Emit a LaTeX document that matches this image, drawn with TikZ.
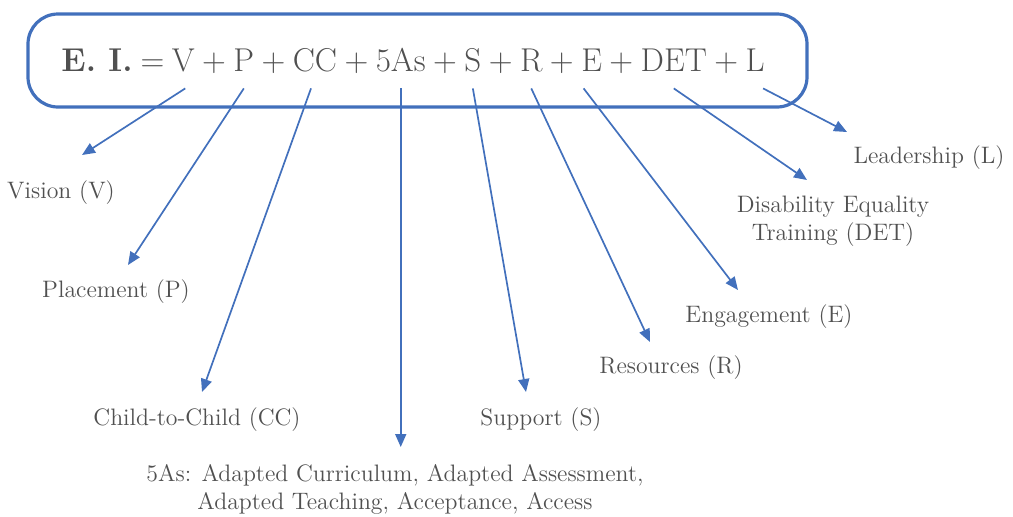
\documentclass[tikz,border=0pt]{standalone}
\usepackage{fontspec}
\usepackage{tikz}
\usetikzlibrary{arrows.meta, positioning}
\definecolor{azul}{RGB}{66,112,188}
\definecolor{gris}{RGB}{80,80,80}

\begin{document}
\begin{tikzpicture}[x=0.5pt, y=-0.5pt,
  term/.style={inner sep=0pt, text depth=8.5pt, text=gris, font=\fontsize{16.5}{19}\selectfont},
  etiqueta/.style={inner sep=0pt, text=gris, align=center, font=\fontsize{11.9}{14}\selectfont},
  flecha/.style={azul, line width=0.85pt, -{Triangle[length=6.5pt,width=5.5pt]}},
  node distance=3.35pt]
\useasboundingbox (0,0) rectangle (1013,516);
% marco redondeado de la fórmula
\draw[azul, line width=1.6pt, rounded corners=15pt] (28,14) rectangle (807,107);
% fórmula
\node[term, anchor=base west] (ei) at (61,71) {\textbf{E. I.}\kern-1pt\ =};
\node[term, base right=of ei] (V) {V};
\node[term, base right=of V] (m1) {+};
\node[term, base right=of m1] (P) {P};
\node[term, base right=of P] (m2) {+};
\node[term, base right=of m2] (CC) {CC};
\node[term, base right=of CC] (m3) {+};
\node[term, base right=of m3] (A5) {5As};
\node[term, base right=of A5] (m4) {+};
\node[term, base right=of m4] (S) {S};
\node[term, base right=of S] (m5) {+};
\node[term, base right=of m5] (R) {R};
\node[term, base right=of R] (m6) {+};
\node[term, base right=of m6] (E) {E};
\node[term, base right=of E] (m7) {+};
\node[term, base right=of m7] (DET) {DET};
\node[term, base right=of DET] (m8) {+};
\node[term, base right=of m8] (L) {L};
% etiquetas
\node[etiqueta] (vision) at (61,193) {Vision (V)};
\node[etiqueta] (placement) at (116,292) {Placement (P)};
\node[etiqueta] (child) at (197,420) {Child-to-Child (CC)};
\node[etiqueta] (fiveas) at (395,489) {5As: Adapted Curriculum, Adapted Assessment,\\Adapted Teaching, Acceptance, Access};
\node[etiqueta] (support) at (541,420) {Support (S)};
\node[etiqueta] (resources) at (671,368) {Resources (R)};
\node[etiqueta] (engagement) at (769,317) {Engagement (E)};
\node[etiqueta] (det) at (833,221) {Disability Equality\\Training (DET)};
\node[etiqueta] (leader) at (929,158) {Leadership (L)};
% puntas de flecha
\coordinate (tV) at (82,155);
\coordinate (tP) at (128,265);
\coordinate (tCC) at (202,392);
\coordinate (tA5) at (A5.south |- 0,447); % vertical
\coordinate (tS) at (526,392);
\coordinate (tR) at (650,342);
\coordinate (tE) at (738,290);
\coordinate (tDET) at (807,180);
\coordinate (tL) at (847,132);
% flechas
\draw[flecha] ([xshift=1pt]V.south) -- (tV);
\draw[flecha] (P.south) -- (tP);
\draw[flecha] ([xshift=-2pt]CC.south) -- (tCC);
\draw[flecha] (A5.south) -- (tA5);
\draw[flecha] (S.south) -- (tS);
\draw[flecha] (R.south) -- (tR);
\draw[flecha] ([xshift=-4pt]E.south) -- (tE);
\draw[flecha] (DET.south) -- (tDET);
\draw[flecha] ([xshift=4pt]L.south) -- (tL);
\end{tikzpicture}
\end{document}
